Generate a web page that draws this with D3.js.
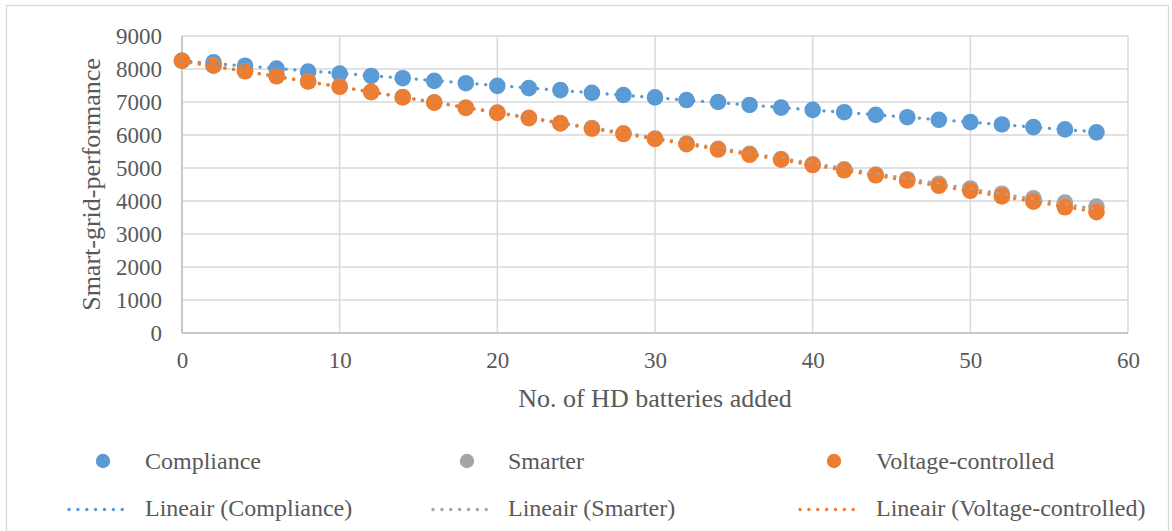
<!DOCTYPE html>
<html><head><meta charset="utf-8">
<script src="https://cdn.jsdelivr.net/npm/d3@7"></script>
<style>body{margin:0;background:#fff}svg{display:block}text{font-family:"Liberation Serif","Times New Roman",serif;fill:#595959}</style>
</head><body>
<svg id="chart" width="1172" height="531"></svg>
<script>
const batteries = [0,2,4,6,8,10,12,14,16,18,20,22,24,26,28,30,32,34,36,38,40,42,44,46,48,50,52,54,56,58];
const compliance = [8250,8200,8100,8010,7920,7860,7790,7720,7640,7570,7490,7420,7360,7280,7210,7140,7060,7000,6910,6830,6760,6690,6610,6540,6460,6390,6320,6240,6170,6080];
const smarter = [8250,8110,7940,7790,7630,7470,7310,7150,6990,6830,6680,6520,6360,6210,6050,5890,5740,5580,5430,5270,5110,4960,4800,4660,4520,4380,4220,4080,3950,3830];
const voltage = [8250,8100,7930,7780,7620,7460,7300,7140,6980,6820,6670,6510,6350,6190,6030,5880,5720,5560,5400,5250,5090,4930,4780,4620,4460,4310,4140,3980,3810,3660];
const seriesNames = ["Compliance","Smarter","Voltage-controlled"];
const seriesColors = ["#5B9BD5","#A5A5A5","#ED7D31"];
const xTicks = [0,10,20,30,40,50,60];
const yTicks = [0,1000,2000,3000,4000,5000,6000,7000,8000,9000];
const xTitle = "No. of HD batteries added";
const yTitle = "Smart-grid-performance";

const svg = d3.select("#chart");
svg.append("rect").attr("x",6.5).attr("y",5.5).attr("width",1162).attr("height",540)
  .attr("fill","#fff").attr("stroke","#D9D9D9").attr("stroke-width",1.3);

const x = d3.scaleLinear().domain([0,60]).range([182,1128]);
const y = d3.scaleLinear().domain([0,9000]).range([333,36]);

const g = svg.append("g");
g.selectAll(".hg").data(yTicks).enter().append("line")
  .attr("x1",x(0)).attr("x2",x(60)).attr("y1",d=>y(d)).attr("y2",d=>y(d))
  .attr("stroke","#D9D9D9").attr("stroke-width",1.5);
g.selectAll(".vg").data(xTicks).enter().append("line")
  .attr("y1",y(0)).attr("y2",y(9000)).attr("x1",d=>x(d)).attr("x2",d=>x(d))
  .attr("stroke","#D9D9D9").attr("stroke-width",1.5);
g.append("line").attr("x1",x(0)).attr("x2",x(60)).attr("y1",y(0)).attr("y2",y(0)).attr("stroke","#BFBFBF").attr("stroke-width",1.5);
g.append("line").attr("x1",x(0)).attr("x2",x(0)).attr("y1",y(0)).attr("y2",y(9000)).attr("stroke","#BFBFBF").attr("stroke-width",1.5);

const fmt = d3.format("d");
const xAxis = d3.axisBottom(x).tickValues(xTicks).tickFormat(fmt).tickSize(0).tickPadding(0);
const xa = svg.append("g").attr("transform",`translate(0,${y(0)+19})`).call(xAxis);
xa.select(".domain").remove();
xa.selectAll("text").attr("font-size",23).attr("fill","#595959").attr("dy","0.71em");
const yAxis = d3.axisLeft(y).tickValues(yTicks).tickFormat(fmt).tickSize(0).tickPadding(0);
const ya = svg.append("g").attr("transform",`translate(${x(0)-20},0)`).call(yAxis);
ya.select(".domain").remove();
ya.selectAll("text").attr("font-size",23).attr("fill","#595959").attr("dy","0.34em");

svg.append("text").attr("x",(x(0)+x(60))/2).attr("y",407).attr("text-anchor","middle").attr("font-size",26).text(xTitle);
svg.append("text").attr("transform",`translate(100,${(y(0)+y(9000))/2}) rotate(-90)`).attr("text-anchor","middle").attr("font-size",26).text(yTitle);

const data = [compliance, smarter, voltage];
function fit(vals){
  const mx=d3.mean(batteries), my=d3.mean(vals);
  let sxy=0,sxx=0; batteries.forEach((b,i)=>{sxy+=(b-mx)*(vals[i]-my);sxx+=(b-mx)*(b-mx);});
  const m=sxy/sxx; return [m, my-m*mx];
}
data.forEach((vals,si)=>{
  svg.append("g").selectAll("circle").data(vals).enter().append("circle")
    .attr("cx",(d,i)=>x(batteries[i])).attr("cy",d=>y(d)).attr("r",8.3).attr("fill",seriesColors[si]);
});
data.forEach((vals,si)=>{
  const [m,b]=fit(vals);
  const x0=batteries[0], x1=batteries[batteries.length-1];
  svg.append("line").attr("x1",x(x0)).attr("x2",x(x1)).attr("y1",y(m*x0+b)).attr("y2",y(m*x1+b))
    .attr("stroke",seriesColors[si]).attr("stroke-width",3.3).attr("stroke-linecap","round").attr("stroke-dasharray","0.1,8.6");
});

const legMarkX=[103,467,834], legTextX=[145,508,876];
seriesNames.forEach((nm,i)=>{
  svg.append("circle").attr("cx",legMarkX[i]).attr("cy",461).attr("r",7.2).attr("fill",seriesColors[i]);
  svg.append("text").attr("x",legTextX[i]).attr("y",469).attr("font-size",24).text(nm);
  svg.append("line").attr("x1",legMarkX[i]-34).attr("x2",legMarkX[i]+28).attr("y1",509.5).attr("y2",509.5)
    .attr("stroke",seriesColors[i]).attr("stroke-width",3.3).attr("stroke-linecap","round").attr("stroke-dasharray","0.1,8.76");
  svg.append("text").attr("x",legTextX[i]).attr("y",516).attr("font-size",24).text(`Lineair (${nm})`);
});
</script>
</body></html>
